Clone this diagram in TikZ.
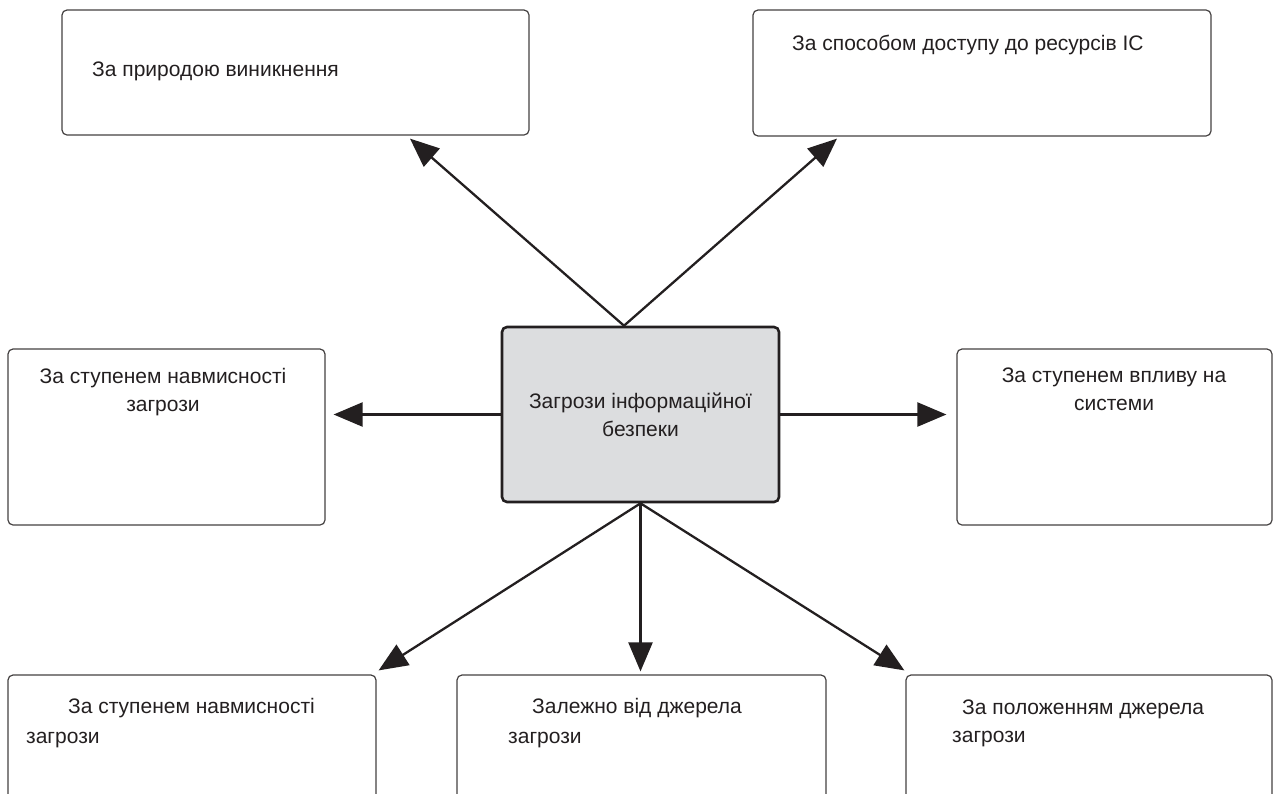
\documentclass[tikz,border=0pt]{standalone}
\usepackage{fontspec}
\setmainfont{Liberation Sans}
\usetikzlibrary{arrows.meta,positioning,calc}
\definecolor{ink}{HTML}{231F20}
\definecolor{coregray}{HTML}{DCDDDF}
\tikzset{
  kind/.style={rectangle, draw=ink!85, line width=1.2pt, rounded corners=5pt, inner sep=0pt},
  core/.style={rectangle, draw=ink, line width=2.6pt, fill=coregray, rounded corners=5pt, inner sep=0pt, minimum width=277pt, minimum height=175pt},
  txt/.style={inner sep=0pt, text=ink, font=\fontsize{21}{28}\selectfont},
  link/.style={draw=ink, line width=2.3pt, -{Triangle[length=29pt,width=24pt]}},
}
\begin{document}
\begin{tikzpicture}[x=1pt,y=-1pt]
\useasboundingbox (0,0) rectangle (1274,793);
\clip (0,0) rectangle (1274,793);
% centre and classification boxes
\node[core] (cn) at (640.5,414.5) {};
\node[kind, minimum width=467pt, minimum height=125pt] (nat) at (295.5,72.5) {};
\node[kind, minimum width=458pt, minimum height=126pt] (acc) at (982,73) {};
\node[kind, minimum width=317pt, minimum height=176pt] (intl) at (166.5,437) {};
\node[kind, minimum width=315pt, minimum height=176pt] (imp) at (1114.5,437) {};
\node[kind, minimum width=368pt, minimum height=150pt] (intb) at (192,750) {};
\node[kind, minimum width=369pt, minimum height=150pt] (src) at (641.5,750) {};
\node[kind, minimum width=366pt, minimum height=150pt] (pos) at (1089,750) {};
% texts (base = last line)
\node[txt, align=center] (tcn) at (cn) {Загрози інформаційної\\безпеки};
\node[txt, anchor=base west] (tnat) at (92,76) {За природою виникнення};
\node[txt, anchor=base west] (tacc) at (792,50) {За способом доступу до ресурсів ІС};
\node[txt, anchor=base, align=center] (tintl) at (163,411) {За ступенем навмисності\\загрози};
\node[txt, anchor=base, align=center] (timp) at (1114,410) {За ступенем впливу на\\системи};
\node[txt, anchor=base west, align=left] (tintb) at (26,743) {\hspace*{42pt}За ступенем навмисності\\[2pt]загрози};
\node[txt, anchor=base west, align=left] (tsrc) at (508,743) {\hspace*{24pt}Залежно від джерела\\[2pt]загрози};
\node[txt, anchor=base west, align=left] (tpos) at (952,742) {\hspace*{10pt}За положенням джерела\\загрози};
% connectors
\coordinate (cup) at ([xshift=-16.5pt]cn.north);
\coordinate (cdown) at (cn.south);
\draw[link] (cup) -- ([shift={(114.5pt,-3pt)}]nat.south);
\draw[link] (cup) -- ([shift={(-145pt,-2pt)}]acc.south);
\draw[link] (cn.west) -- ($(cn.west -| intl.east)+(8,0)$);
\draw[link] (cn.east) -- ($(cn.east -| imp.west)+(-10,0)$);
\draw[link] (cdown) -- ([shift={(2pt,4pt)}]intb.north east);
\draw[link] (cdown) -- ([yshift=3pt]cdown |- src.north);
\draw[link] (cdown) -- ([shift={(-1pt,4pt)}]pos.north west);
\end{tikzpicture}
\end{document}
